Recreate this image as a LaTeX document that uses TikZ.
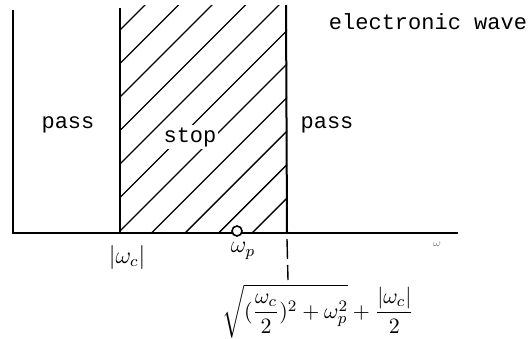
\documentclass[tikz,border=0pt]{standalone}
\usepackage{amsmath}
\usepackage{fontspec}
\setmonofont{Liberation Mono}
\begin{document}
\begin{tikzpicture}[x=0.5pt, y=-0.5pt,
		axis/.style={line width=1pt},
		hatch/.style={line width=0.7pt},
		region/.style={font=\ttfamily\fontsize{11}{13}\selectfont},
		freq/.style={font=\fontsize{12}{14}\selectfont, inner sep=1pt}]

	\useasboundingbox (0,0) rectangle (529,338);

	% axes and band edges
	\coordinate (ytop) at (13,10);
	\coordinate (O) at (13,233);
	\coordinate (xend) at (458,233);
	\coordinate (wctop) at (120,8);
	\coordinate (wc) at (120,233);
	\coordinate (wrtop) at (286,5);
	\coordinate (wr) at (287,233);
	\coordinate (wrlow) at (288,280);

	% hatched stop band
	\begin{scope}
		\clip (120,5) rectangle (287,233);
		\foreach \k in {0,...,10}
			\draw[hatch] (120,30+33.5*\k) -- ++(240,-240);
	\end{scope}

	\draw[axis] (ytop) -- (O) -- (xend);
	\draw[axis] (wctop) -- (wc);
	\draw[axis] (wrtop) -- (wr);
	\draw[hatch, dashed, dash pattern=on 10pt off 3pt] (wr) ++(0,6) -- (wrlow);

	\node[circle, draw, line width=0.8pt, fill=white, minimum size=5pt, inner sep=0pt] (wp) at (237,231) {};

	% labels
	\node[region] (pass1) at (68,125) {pass};
	\node[region, fill=white, inner sep=1pt] (stop) at (190,137) {stop};
	\node[region] (pass2) at (327,125) {pass};
	\node[region] (title) at (428,22) {electronic wave};

	\node[freq] (lwc) at (127,257) {$|\omega_c|$};
	\node[freq] (lwp) at (243,251) {$\omega_p$};
	\node[freq, text=gray] (lw) at (437,244) {\tiny$\omega$};
	\node[freq, font=\fontsize{11}{13}\selectfont, anchor=north] (lwr) at (318,282) {$\displaystyle\sqrt{(\frac{\omega_c}{2})^2+\omega_p^2}+\frac{|\omega_c|}{2}$};
\end{tikzpicture}
\end{document}
